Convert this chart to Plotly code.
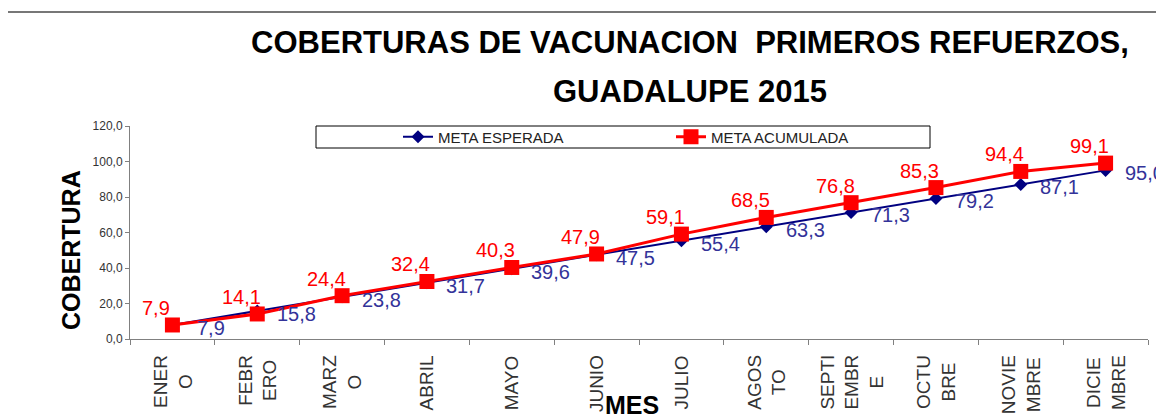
import plotly.graph_objects as go

# datos
meses = ["ENER<br>O", "FEBR<br>ERO", "MARZ<br>O", "ABRIL", "MAYO", "JUNIO", "JULIO",
         "AGOS<br>TO", "SEPTI<br>EMBR<br>E", "OCTU<br>BRE", "NOVIE<br>MBRE", "DICIE<br>MBRE"]
meta_esperada = [7.9, 15.8, 23.8, 31.7, 39.6, 47.5, 55.4, 63.3, 71.3, 79.2, 87.1, 95.0]
meta_acumulada = [7.9, 14.1, 24.4, 32.4, 40.3, 47.9, 59.1, 68.5, 76.8, 85.3, 94.4, 99.1]

PAGE_W, PAGE_H = 1164, 419
OFF = 8  # margen del body en la pagina
W, H = PAGE_W - OFF, PAGE_H - OFF
L, R, T, B = 130, 1148, 126, 339  # area de trazado en pixeles de la pagina
FONT = "Liberation Sans, Arial, sans-serif"
AZUL = "#000080"
AZUL_TXT = "#333399"
ROJO = "#FF0000"


def px_x(x):
    return (x - L) / (R - L)


def px_y(y):
    return (B - y) / (B - T)


def fmt(v):
    return f"{v:.1f}".replace(".", ",")


fig = go.Figure()
fig.add_trace(go.Scatter(
    x=meses, y=meta_esperada, name="META ESPERADA", mode="lines+markers",
    line=dict(color=AZUL, width=2),
    marker=dict(symbol="diamond", size=10, color=AZUL),
))
fig.add_trace(go.Scatter(
    x=meses, y=meta_acumulada, name="META ACUMULADA", mode="lines+markers",
    line=dict(color=ROJO, width=3),
    marker=dict(symbol="square", size=15, color=ROJO),
))

anns = []
# etiquetas de datos
for m, v in zip(meses, meta_acumulada):
    anns.append(dict(x=m, y=v, xref="x", yref="y", text=fmt(v), showarrow=False,
                     xshift=-16, yshift=17, font=dict(family=FONT, size=20, color=ROJO)))
for m, v in zip(meses, meta_esperada):
    anns.append(dict(x=m, y=v, xref="x", yref="y", text=fmt(v), showarrow=False,
                     xshift=39, yshift=-3, font=dict(family=FONT, size=20, color=AZUL_TXT)))
# etiquetas de meses (giradas, centradas por linea)
for m in meses:
    anns.append(dict(x=m, y=0, xref="x", yref="paper", text=m, showarrow=False,
                     textangle=-90, xanchor="center", yanchor="top", yshift=-14, align="center",
                     font=dict(family=FONT, size=19, color="#333333")))
# segunda linea del titulo
anns.append(dict(x=px_x(690), y=px_y(91), xref="paper", yref="paper",
                 text="GUADALUPE 2015", showarrow=False, xanchor="center", yanchor="middle",
                 font=dict(family=FONT, size=31, color="black", weight="bold")))
# titulos de ejes
anns.append(dict(x=px_x(71), y=px_y(250), xref="paper", yref="paper",
                 text="COBERTURA", showarrow=False, textangle=-90,
                 xanchor="center", yanchor="middle",
                 font=dict(family=FONT, size=25, color="black", weight="bold")))
anns.append(dict(x=px_x(632), y=px_y(405), xref="paper", yref="paper",
                 text="MES", showarrow=False, xanchor="center", yanchor="middle",
                 font=dict(family=FONT, size=25, color="black", weight="bold")))

shapes = [
    # marco de la leyenda
    dict(type="rect", xref="paper", yref="paper",
         x0=px_x(316), x1=px_x(930), y0=px_y(148), y1=px_y(126),
         line=dict(color="black", width=1), fillcolor="rgba(0,0,0,0)"),
    # borde del area del grafico
    dict(type="line", xref="paper", yref="paper",
         x0=px_x(7), x1=px_x(1175), y0=px_y(12), y1=px_y(12),
         line=dict(color="#777777", width=2)),
    dict(type="line", xref="paper", yref="paper",
         x0=px_x(7), x1=px_x(7), y0=px_y(12), y1=px_y(430),
         line=dict(color="black", width=2)),
]

fig.update_layout(
    width=W, height=H,
    margin=dict(l=L - OFF, r=PAGE_W - R, t=T - OFF, b=PAGE_H - B),
    paper_bgcolor="white", plot_bgcolor="white",
    separators=",.",
    title=dict(text="COBERTURAS DE VACUNACION  PRIMEROS REFUERZOS,",
               x=(690 - OFF) / W, y=1 - (42.5 - OFF) / H, xanchor="center", yanchor="middle",
               font=dict(family=FONT, size=31, color="black", weight="bold")),
    showlegend=True,
    legend=dict(orientation="h", x=px_x(398), y=px_y(137), xanchor="left", yanchor="middle",
                entrywidth=228, bgcolor="rgba(0,0,0,0)", borderwidth=0,
                font=dict(family=FONT, size=15, color="#222222")),
    annotations=anns,
    shapes=shapes,
)
fig.update_xaxes(type="category", range=[-0.5, len(meses) - 0.5],
                 showticklabels=False, tickson="boundaries",
                 ticks="outside", ticklen=5, tickcolor="#808080",
                 showline=True, linecolor="#808080", linewidth=1,
                 showgrid=False, zeroline=False)
fig.update_yaxes(range=[0, 120], dtick=20, tickformat=".1f",
                 ticks="outside", ticklen=4, tickcolor="#808080",
                 showline=True, linecolor="#808080", linewidth=1,
                 showgrid=False, zeroline=False,
                 tickfont=dict(family=FONT, size=12, color="#333333"))

fig.write_html("out.html")
